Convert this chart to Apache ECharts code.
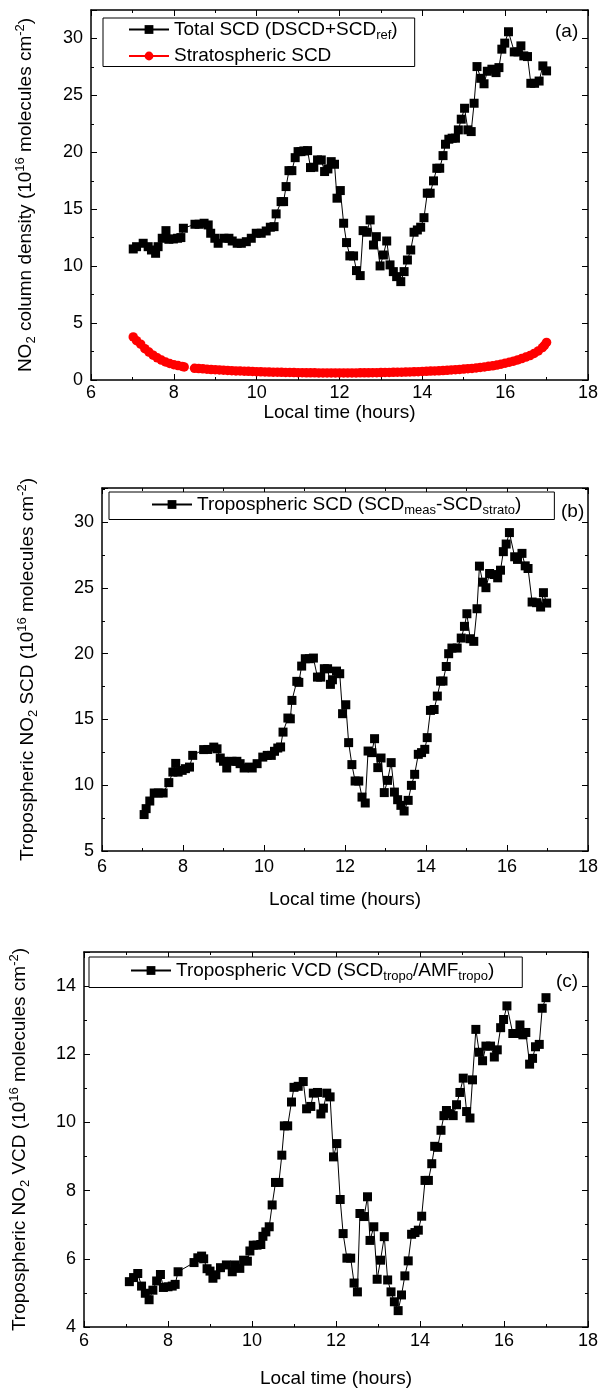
<!DOCTYPE html>
<html>
<head>
<meta charset="utf-8">
<script src="https://cdn.jsdelivr.net/npm/echarts@6/dist/echarts.min.js"></script>
<style>
html,body{margin:0;padding:0;background:#fff;}
#chart{width:601px;height:1389px;}
</style>
</head>
<body>
<div id="chart"></div>
<script>
// ---------- DATA ----------
const xTicks = [6, 8, 10, 12, 14, 16, 18];

// Panel (a): total SCD (DSCD + SCDref)
const timesA = [7.02,7.10,7.26,7.38,7.46,7.56,7.62,7.72,7.81,7.88,7.99,8.09,8.17,8.23,8.51,8.61,8.73,8.83,8.89,8.99,
  9.07,9.21,9.33,9.41,9.53,9.63,9.75,9.87,9.99,10.11,10.23,10.33,10.42,10.47,10.59,10.65,10.71,10.78,10.85,10.93,
  11.00,11.07,11.14,11.23,11.30,11.38,11.47,11.56,11.64,11.72,11.80,11.88,11.94,12.02,12.10,12.17,12.25,12.34,12.41,12.50,
  12.57,12.66,12.74,12.82,12.89,12.98,13.06,13.14,13.22,13.30,13.38,13.48,13.56,13.64,13.72,13.80,13.88,13.96,14.04,14.12,
  14.19,14.27,14.35,14.42,14.50,14.56,14.64,14.72,14.80,14.87,14.94,15.02,15.10,15.18,15.25,15.32,15.41,15.49,15.57,15.68,
  15.78,15.85,15.92,15.99,16.08,16.22,16.31,16.38,16.45,16.54,16.62,16.71,16.82,16.91,17.00];
const totalSCD = [11.51,11.71,12.01,11.71,11.42,11.13,11.71,12.45,13.12,12.36,12.39,12.45,12.51,13.33,13.68,13.68,13.77,13.62,12.89,12.45,
  12.01,12.45,12.45,12.21,12.01,12.01,12.15,12.45,12.89,12.89,13.09,13.42,13.47,14.59,15.67,15.67,16.99,18.39,18.39,19.53,
  20.06,20.06,20.12,20.15,18.66,18.69,19.33,19.33,18.31,18.54,19.18,18.95,15.97,16.64,13.77,12.07,10.90,10.90,9.61,9.17,
  13.12,12.98,14.06,11.86,12.59,10.02,10.98,12.21,10.11,9.52,9.08,8.64,9.52,10.54,11.42,12.98,13.18,13.42,14.26,16.41,
  16.41,17.49,18.60,18.60,19.71,20.71,21.15,21.24,21.24,21.97,22.91,23.87,21.97,21.82,24.31,27.53,26.50,26.02,27.12,27.30,
  27.00,27.44,29.06,29.59,30.59,28.82,28.82,29.35,28.47,28.41,26.06,26.06,26.26,27.59,27.15];

// Panel (a): stratospheric SCD (null = no measurement)
const stratTimes = [7.02,7.10,7.20,7.30,7.40,7.50,7.60,7.70,7.80,7.90,8.00,8.10,8.20,8.25,8.37,
  8.50,8.60,8.70,8.80,8.90,9.00,9.10,9.20,9.30,9.40,9.50,9.60,9.70,9.80,9.90,
  10.00,10.10,10.20,10.30,10.40,10.50,10.60,10.70,10.80,10.90,11.00,11.10,11.20,11.30,11.40,11.50,11.60,11.70,11.80,11.90,
  12.00,12.10,12.20,12.30,12.40,12.50,12.60,12.70,12.80,12.90,13.00,13.10,13.20,13.30,13.40,13.50,13.60,13.70,13.80,13.90,
  14.00,14.10,14.20,14.30,14.40,14.50,14.60,14.70,14.80,14.90,15.00,15.10,15.20,15.30,15.40,15.50,15.60,15.70,15.80,15.90,
  16.00,16.10,16.20,16.30,16.40,16.50,16.60,16.70,16.80,16.90,16.95,17.00];
const stratSCD = [3.78,3.45,3.15,2.75,2.45,2.18,1.95,1.75,1.58,1.45,1.35,1.27,1.19,1.15,null,
  1.03,1.00,0.98,0.95,0.92,0.90,0.88,0.86,0.84,0.82,0.80,0.79,0.77,0.76,0.75,
  0.73,0.72,0.71,0.70,0.69,0.68,0.67,0.66,0.66,0.65,0.64,0.64,0.63,0.63,0.63,0.62,0.62,0.62,0.62,0.62,
  0.62,0.62,0.62,0.62,0.62,0.63,0.63,0.63,0.64,0.64,0.65,0.66,0.66,0.67,0.68,0.69,0.70,0.71,0.72,0.73,
  0.75,0.76,0.78,0.79,0.81,0.83,0.85,0.88,0.90,0.93,0.96,0.99,1.02,1.06,1.10,1.15,1.20,1.25,1.31,1.39,
  1.48,1.56,1.65,1.76,1.88,2.01,2.15,2.33,2.55,2.85,3.05,3.30];

// Panel (b): tropospheric SCD
const timesB = [7.04,7.09,7.18,7.29,7.39,7.51,7.65,7.75,7.82,7.88,7.98,8.06,8.16,8.24,8.51,8.61,8.76,8.84,8.92,9.00,
  9.08,9.21,9.33,9.41,9.51,9.63,9.71,9.83,9.97,10.08,10.18,10.26,10.34,10.41,10.47,10.59,10.65,10.69,10.81,10.86,
  10.93,11.02,11.12,11.22,11.32,11.40,11.49,11.57,11.64,11.69,11.79,11.87,11.94,12.02,12.09,12.17,12.25,12.34,12.42,12.50,
  12.57,12.66,12.73,12.81,12.89,12.97,13.05,13.14,13.22,13.30,13.38,13.46,13.56,13.64,13.72,13.81,13.89,13.97,14.03,14.11,
  14.20,14.28,14.36,14.42,14.50,14.56,14.64,14.77,14.87,14.95,15.01,15.09,15.18,15.26,15.32,15.40,15.48,15.57,15.68,15.77,
  15.84,15.91,15.98,16.06,16.19,16.26,16.37,16.45,16.52,16.62,16.73,16.83,16.90,16.98];
const tropoSCD = [7.77,8.22,8.80,9.41,9.41,9.41,10.20,11.00,11.66,11.00,11.13,11.26,11.38,12.27,12.71,12.72,12.90,12.77,12.07,11.82,
  11.31,11.82,11.82,11.64,11.31,11.38,11.31,11.64,12.14,12.27,12.27,12.58,12.83,12.91,14.04,15.11,15.05,16.45,17.90,17.82,
  19.06,19.62,19.62,19.67,18.22,18.22,18.86,18.86,17.67,18.02,18.68,18.48,15.44,16.12,13.24,11.57,10.32,10.32,9.10,8.65,
  12.60,12.48,13.54,11.34,12.07,9.44,10.37,11.72,9.48,8.90,8.47,8.04,8.85,9.99,10.83,12.35,12.48,12.73,13.62,15.69,
  15.76,16.78,17.92,17.92,19.03,20.00,20.43,20.43,21.19,22.08,23.04,21.14,20.94,23.42,26.66,25.44,25.02,26.10,26.02,25.77,
  26.35,27.76,28.34,29.21,27.37,27.17,27.63,26.68,26.48,23.93,23.88,23.55,24.64,23.85];

// Panel (c): tropospheric VCD
const timesC = [7.08,7.18,7.28,7.37,7.46,7.55,7.64,7.73,7.82,7.89,8.00,8.10,8.17,8.24,8.62,8.71,8.80,8.85,8.93,9.00,
  9.07,9.14,9.25,9.39,9.53,9.59,9.71,9.80,9.89,9.95,10.03,10.12,10.21,10.26,10.33,10.41,10.48,10.56,10.64,10.71,
  10.77,10.85,10.94,11.00,11.10,11.22,11.30,11.40,11.46,11.56,11.64,11.70,11.78,11.86,11.94,12.02,12.10,12.17,12.26,12.35,
  12.43,12.51,12.57,12.67,12.75,12.81,12.90,12.98,13.06,13.15,13.23,13.31,13.39,13.48,13.56,13.64,13.72,13.80,13.88,13.96,
  14.04,14.12,14.20,14.28,14.35,14.42,14.50,14.57,14.63,14.71,14.79,14.87,14.95,15.03,15.11,15.19,15.25,15.33,15.41,15.49,
  15.57,15.68,15.77,15.84,15.92,15.99,16.07,16.21,16.30,16.38,16.45,16.52,16.61,16.68,16.75,16.84,16.91,17.00];
const tropoVCD = [5.33,5.45,5.57,5.20,4.99,4.80,5.08,5.35,5.54,5.16,5.18,5.20,5.25,5.62,5.89,6.03,6.08,6.00,5.71,5.64,
  5.43,5.53,5.74,5.82,5.62,5.82,5.72,5.96,5.93,6.23,6.40,6.40,6.42,6.66,6.79,6.94,7.58,8.24,8.24,9.04,
  9.90,9.90,10.60,11.03,11.06,11.20,10.40,10.47,10.86,10.88,10.25,10.42,10.86,10.75,8.99,9.38,7.74,6.74,6.02,6.02,
  5.29,5.03,7.33,7.24,7.82,6.54,6.94,5.40,5.96,6.65,5.38,5.03,4.74,4.48,4.94,5.50,5.94,6.72,6.77,6.84,
  7.25,8.30,8.30,8.79,9.30,9.27,9.77,10.20,10.35,10.26,10.20,10.52,10.88,11.30,10.32,10.13,11.25,12.73,12.06,11.81,
  12.24,12.24,11.92,12.13,12.78,13.02,13.42,12.61,12.61,12.86,12.57,12.64,11.71,11.88,12.22,12.29,13.35,13.66];

// ---------- CHART ----------
const FONT = "'Liberation Sans', Arial, sans-serif";
const zip = (xs, ys) => xs.map((x, i) => [x, ys[i]]);

const rich = {
  n:   {fontSize: 19, fontFamily: FONT, color: '#000', lineHeight: 24},
  sub: {fontSize: 13, fontFamily: FONT, color: '#000', lineHeight: 14, verticalAlign: 'bottom'},
  sup: {fontSize: 13, fontFamily: FONT, color: '#000', lineHeight: 14, verticalAlign: 'top'}
};

const grids = [
  {left: 91,  top: 10,  width: 500, height: 370},
  {left: 102, top: 488, width: 490, height: 363},
  {left: 84,  top: 952, width: 504, height: 376}
];
const yRanges = [
  {min: 0, max: 32.5, interval: 5},
  {min: 5, max: 32.6, interval: 5},
  {min: 4, max: 15, interval: 2}
];
const xNameGaps = [19, 39, 42];
const xLabelMargins = [4, 7, 5];
const yNameGaps = [53, 62, 52];
const yNames = [
  '{n|NO}{sub|2}{n| column density (10}{sup|16}{n| molecules cm}{sup|-2}{n|)}',
  '{n|Tropospheric NO}{sub|2}{n| SCD (10}{sup|16}{n| molecules cm}{sup|-2}{n|)}',
  '{n|Tropospheric NO}{sub|2}{n| VCD (10}{sup|16}{n| molecules cm}{sup|-2}{n|)}'
];

const axisLine = {show: true, onZero: false, lineStyle: {color: '#000', width: 1.5}};
const tick = {show: true, inside: true, length: 6, lineStyle: {color: '#000', width: 1}};
const minor = {show: true, splitNumber: 2, length: 3, lineStyle: {color: '#000', width: 1}};
const xAxes = [], yAxes = [];
grids.forEach((g, i) => {
  xAxes.push({
    type: 'value', gridIndex: i, min: xTicks[0], max: xTicks[xTicks.length - 1], interval: xTicks[1] - xTicks[0],
    position: 'bottom', axisLine, axisTick: tick, minorTick: minor, splitLine: {show: false},
    axisLabel: {color: '#000', fontSize: 18, fontFamily: FONT, margin: xLabelMargins[i]},
    name: 'Local time (hours)', nameLocation: 'middle', nameGap: xNameGaps[i],
    nameTextStyle: {color: '#000', fontSize: 19, fontFamily: FONT}
  });
  xAxes.push({
    type: 'value', gridIndex: i, min: xTicks[0], max: xTicks[xTicks.length - 1], interval: xTicks[1] - xTicks[0],
    position: 'top', axisLine, axisTick: tick, minorTick: minor, splitLine: {show: false}, axisLabel: {show: false}
  });
  const r = yRanges[i];
  yAxes.push({
    type: 'value', gridIndex: i, min: r.min, max: r.max, interval: r.interval, position: 'left',
    axisLine, axisTick: tick, minorTick: minor, splitLine: {show: false},
    axisLabel: {color: '#000', fontSize: 18, fontFamily: FONT, margin: 8, showMaxLabel: false},
    name: yNames[i], nameLocation: 'middle', nameGap: yNameGaps[i], nameRotate: 90,
    nameTextStyle: {rich}
  });
  yAxes.push({
    type: 'value', gridIndex: i, min: r.min, max: r.max, interval: r.interval, position: 'right',
    axisLine, axisTick: tick, minorTick: minor, splitLine: {show: false}, axisLabel: {show: false}
  });
});

const blackSeries = (name, xi, yi, data) => ({
  name, type: 'line', xAxisIndex: xi, yAxisIndex: yi, data,
  symbol: 'rect', symbolSize: 9, showSymbol: true,
  itemStyle: {color: '#000'}, lineStyle: {color: '#000', width: 1},
  z: 3
});

const legendNames = {
  'Total SCD': '{n|Total SCD (DSCD+SCD}{sub|ref}{n|)}',
  'Stratospheric SCD': '{n|Stratospheric SCD}',
  'Tropospheric SCD': '{n|Tropospheric SCD (SCD}{sub|meas}{n|-SCD}{sub|strato}{n|)}',
  'Tropospheric VCD': '{n|Tropospheric VCD (SCD}{sub|tropo}{n|/AMF}{sub|tropo}{n|)}'
};
const legendBase = {
  orient: 'vertical', itemWidth: 40, itemHeight: 11, itemGap: 5,
  borderColor: '#000', borderWidth: 1, backgroundColor: '#fff',
  formatter: name => legendNames[name],
  textStyle: {rich}
};

const option = {
  animation: false,
  backgroundColor: '#fff',
  grid: grids.map(g => Object.assign({containLabel: false}, g)),
  xAxis: xAxes,
  yAxis: yAxes,
  legend: [
    Object.assign({}, legendBase, {left: 103, top: 18, padding: [2, 17, 1, 25], data: ['Total SCD', 'Stratospheric SCD']}),
    Object.assign({}, legendBase, {left: 109, top: 492, padding: [3, 33, 3, 42], data: ['Tropospheric SCD']}),
    Object.assign({}, legendBase, {left: 89, top: 957, padding: [4, 28, 5, 41], data: ['Tropospheric VCD']})
  ],
  graphic: [
    {type: 'text', left: 555, top: 22, style: {text: '(a)', font: '19px ' + FONT, fill: '#000'}},
    {type: 'text', left: 561, top: 502, style: {text: '(b)', font: '19px ' + FONT, fill: '#000'}},
    {type: 'text', left: 556, top: 972, style: {text: '(c)', font: '19px ' + FONT, fill: '#000'}}
  ],
  series: [
    blackSeries('Total SCD', 0, 0, zip(timesA, totalSCD)),
    {
      name: 'Stratospheric SCD', type: 'line', xAxisIndex: 0, yAxisIndex: 0,
      data: zip(stratTimes, stratSCD), connectNulls: false,
      symbol: 'circle', symbolSize: 9.5, showSymbol: true,
      itemStyle: {color: '#ff0000'}, lineStyle: {color: '#ff0000', width: 1}, z: 2
    },
    blackSeries('Tropospheric SCD', 2, 2, zip(timesB, tropoSCD)),
    blackSeries('Tropospheric VCD', 4, 4, zip(timesC, tropoVCD))
  ]
};

const chart = echarts.init(document.getElementById('chart'), null, {renderer: 'canvas'});
chart.setOption(option);
</script>
</body>
</html>
